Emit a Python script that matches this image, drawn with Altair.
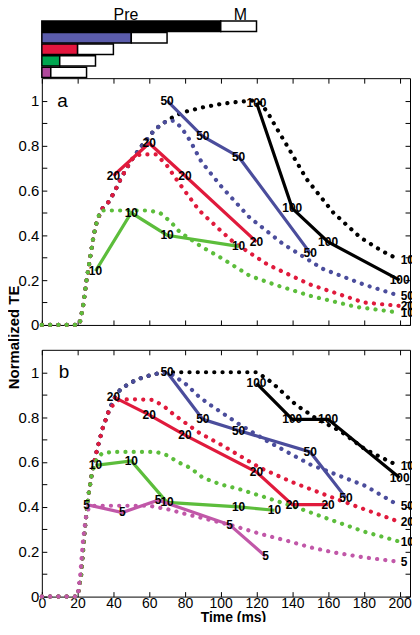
import altair as alt
import pandas as pd

# ---------------- data ----------------
series = ["100", "50", "20", "10", "5"]
line_colors = ["#000000", "#4b4d9c", "#e01a3c", "#5cbd3b", "#c157a8"]
bar_colors = ["#000000", "#5b5cab", "#e4163e", "#00a650", "#b0489c"]

# timing bars (ms)
pre_ms = [100, 50, 20, 10, 5]
m_ms = [20, 20, 20, 20, 20]
header_text = ["Pre", "M"]
header_t = [47, 111]

# panel a - measured (solid) series
a_solid_t = {
    "100": [120, 140, 160, 200],
    "50": [70, 90, 110, 150],
    "20": [40, 60, 80, 120],
    "10": [30, 50, 70, 110],
}
a_solid_v = {
    "100": [0.99, 0.52, 0.37, 0.20],
    "50": [1.0, 0.84, 0.75, 0.32],
    "20": [0.665, 0.81, 0.665, 0.37],
    "10": [0.24, 0.50, 0.40, 0.35],
}
# panel a - model (dotted) series
a_dot_t = {
    "100": [0, 21, 23, 25, 27, 29, 31, 34, 37.5, 41, 44, 47.5, 51, 55, 58, 62, 66, 70, 75, 80, 90, 100, 110, 118, 122, 126, 131, 137, 148, 163, 178, 190, 200],
    "50": [0, 21, 23, 25, 27, 29, 31, 34, 37.5, 41, 44, 47.5, 51, 55, 58, 62, 66, 70, 74, 78, 83, 89, 100, 116, 135, 157, 180, 200],
    "20": [0, 21, 23, 25, 27, 29, 31, 34, 37.5, 41, 44, 47.5, 51, 55, 64, 70, 76, 88, 100, 107, 126, 150, 180, 200],
    "10": [0, 21, 23, 25, 27, 29, 31, 33, 60, 66, 72, 77, 89, 100, 116, 130, 150, 176, 200],
}
a_dot_v = {
    "100": [0, 0, 0.08, 0.2, 0.3, 0.4, 0.47, 0.52, 0.55, 0.6, 0.65, 0.7, 0.745, 0.79, 0.82, 0.86, 0.89, 0.91, 0.935, 0.95, 0.97, 0.985, 0.995, 1.0, 0.99, 0.95, 0.88, 0.80, 0.65, 0.50, 0.39, 0.33, 0.29],
    "50": [0, 0, 0.08, 0.2, 0.3, 0.4, 0.47, 0.52, 0.55, 0.6, 0.65, 0.7, 0.745, 0.79, 0.82, 0.86, 0.89, 0.91, 0.91, 0.88, 0.82, 0.73, 0.62, 0.48, 0.36, 0.25, 0.18, 0.13],
    "20": [0, 0, 0.08, 0.2, 0.3, 0.4, 0.47, 0.52, 0.55, 0.6, 0.65, 0.7, 0.745, 0.76, 0.76, 0.71, 0.64, 0.51, 0.42, 0.37, 0.27, 0.18, 0.10, 0.085],
    "10": [0, 0, 0.08, 0.2, 0.3, 0.4, 0.47, 0.51, 0.51, 0.5, 0.46, 0.415, 0.35, 0.30, 0.22, 0.18, 0.13, 0.08, 0.055],
}

# panel b - measured (solid) series
b_solid_t = {
    "100": [120, 140, 160, 200],
    "50": [70, 90, 110, 150, 170],
    "20": [40, 60, 80, 120, 140, 160],
    "10": [30, 50, 70, 110, 130],
    "5": [25, 45, 65, 105, 125],
}
b_solid_v = {
    "100": [0.95, 0.79, 0.79, 0.53],
    "50": [1.0, 0.79, 0.74, 0.645, 0.44],
    "20": [0.89, 0.81, 0.72, 0.555, 0.41, 0.41],
    "10": [0.585, 0.605, 0.42, 0.40, 0.385],
    "5": [0.41, 0.375, 0.43, 0.32, 0.18],
}
# panel b - model (dotted) series
b_dot_t = {
    "100": [0, 20, 22, 24, 26, 28, 31, 34, 38, 41, 44, 50, 55, 62, 68, 120, 126, 131, 142, 153, 167, 181, 196, 200],
    "50": [0, 20, 22, 24, 26, 28, 31, 34, 38, 41, 44, 50, 55, 62, 68, 72, 81, 88, 94, 110, 126, 150, 181, 200],
    "20": [0, 20, 22, 24, 26, 28, 31, 34, 38, 43, 50, 62, 68, 74, 88, 100, 122, 140, 163, 180, 200],
    "10": [0, 20, 22, 24, 26, 28, 31, 34, 40, 64, 70, 76, 83, 90, 100, 110, 126, 145, 163, 180, 200],
    "5": [0, 20, 21.5, 23, 24.5, 26, 27, 60, 70, 81, 95, 107, 122, 137, 150, 163, 180, 200],
}
b_dot_v = {
    "100": [0, 0, 0.1, 0.3, 0.45, 0.55, 0.66, 0.75, 0.84, 0.89, 0.925, 0.955, 0.973, 0.99, 1.0, 1.0, 0.97, 0.937, 0.855, 0.796, 0.737, 0.655, 0.596, 0.58],
    "50": [0, 0, 0.1, 0.3, 0.45, 0.55, 0.66, 0.75, 0.84, 0.89, 0.925, 0.955, 0.973, 0.99, 1.0, 0.995, 0.944, 0.89, 0.855, 0.77, 0.693, 0.589, 0.493, 0.404],
    "20": [0, 0, 0.1, 0.3, 0.45, 0.55, 0.66, 0.75, 0.84, 0.877, 0.88, 0.877, 0.85, 0.81, 0.73, 0.678, 0.574, 0.51, 0.44, 0.39, 0.333],
    "10": [0, 0, 0.1, 0.3, 0.45, 0.55, 0.62, 0.64, 0.645, 0.645, 0.63, 0.60, 0.574, 0.53, 0.50, 0.48, 0.44, 0.39, 0.338, 0.29, 0.245],
    "5": [0, 0, 0.1, 0.25, 0.35, 0.39, 0.405, 0.405, 0.39, 0.367, 0.34, 0.316, 0.28, 0.249, 0.22, 0.197, 0.175, 0.155],
}

x_ticks = [0, 20, 40, 60, 80, 100, 120, 140, 160, 180, 200]
y_ticks = [0, 0.1, 0.2, 0.3, 0.4, 0.5, 0.6, 0.7, 0.8, 0.9, 1.0]

FONT = "Liberation Sans"
W = 370
H = 248
XDOM = [0, 205.8]
YDOM = [0, 1.1]
color_of = dict(zip(series, line_colors))
LABEL_EXPR = "round(datum.value*10) % 2 == 0 ? format(datum.value, '.1~f') : ''"


def long_df(tdict, vdict):
    rows = []
    for s in series:
        if s not in tdict:
            continue
        for i, (t, v) in enumerate(zip(tdict[s], vdict[s])):
            rows.append({"series": s, "t": t, "v": v, "i": i, "col": color_of[s]})
    return pd.DataFrame(rows)


def xs(axis):
    return alt.X("t:Q", scale=alt.Scale(domain=XDOM, nice=False, zero=False), axis=axis)


def ys(axis):
    return alt.Y("v:Q", scale=alt.Scale(domain=YDOM, nice=False, zero=False), axis=axis)


def make_panel(st, sv, dt, dv, letter, letter_t, bottom_labels, y_title):
    solid = long_df(st, sv)
    dotted = long_df(dt, dv)
    ends = dotted.groupby("series", sort=False).tail(1)

    left_kw = dict(
        orient="left", values=y_ticks, tickSize=5, offset=-5, domain=False, grid=False,
        labelExpr=LABEL_EXPR, labelPadding=3, labelFontSize=15, labelFont=FONT,
        labelColor="black", labelOverlap=False, tickColor="black",
    )
    if y_title:
        left_axis = alt.Axis(
            title=y_title, titleFontSize=15, titleFont=FONT, titleFontWeight="bold",
            titleColor="black", titleX=-25, titleY=260, **left_kw,
        )
    else:
        left_axis = alt.Axis(title=None, **left_kw)
    if bottom_labels:
        bottom_axis = alt.Axis(
            orient="bottom", values=x_ticks, format="d", tickSize=5, offset=-5,
            domain=False, grid=False, labelPadding=0, labelFontSize=14, labelFont=FONT,
            labelColor="black", labelFlush=False, labelOverlap=False, tickColor="black",
            title="Time (ms)", titleFontSize=14, titleFont=FONT, titleFontWeight="bold",
            titleColor="black", titlePadding=0, titleX=192,
        )
    else:
        bottom_axis = alt.Axis(
            orient="bottom", values=x_ticks, tickSize=5, offset=-5, domain=False,
            grid=False, labels=False, tickColor="black", title=None,
        )
    top_axis = alt.Axis(orient="top", values=x_ticks, tickSize=5, offset=-5, domain=False,
                        grid=False, labels=False, tickColor="black", title=None)
    right_axis = alt.Axis(orient="right", values=y_ticks, tickSize=5, offset=-5, domain=False,
                          grid=False, labels=False, tickColor="black", title=None)

    dots = alt.Chart(dotted).mark_line(
        strokeDash=[0.1, 8.2], strokeCap="round", strokeWidth=4.2
    ).encode(
        x=xs(bottom_axis), y=ys(left_axis),
        color=alt.Color("col:N", scale=None), detail="series:N", order="i:Q",
    )
    lines = alt.Chart(solid).mark_line(strokeWidth=3.2).encode(
        x=xs(None), y=ys(None),
        color=alt.Color("col:N", scale=None), detail="series:N", order="i:Q",
    )
    pt_labels = alt.Chart(solid).mark_text(
        font=FONT, fontSize=12, fontWeight="bold", color="black"
    ).encode(x=xs(None), y=ys(None), text="series:N")
    end_labels = alt.Chart(ends).mark_text(
        font=FONT, fontSize=12, fontWeight="bold", color="black", align="left", dx=1
    ).encode(x=xs(top_axis), y=ys(right_axis), text="series:N")
    letter_df = pd.DataFrame({"t": [letter_t], "v": [1.0], "txt": [letter]})
    letter_mark = alt.Chart(letter_df).mark_text(
        font=FONT, fontSize=19, color="black"
    ).encode(x=xs(None), y=ys(None), text="txt:N")

    return alt.layer(dots, lines, pt_labels, end_labels, letter_mark).resolve_axis(
        x="independent", y="independent"
    ).properties(width=W, height=H)


panel_a = make_panel(a_solid_t, a_solid_v, a_dot_t, a_dot_v, "a", 11.5, False, "Normalized TE")
panel_b = make_panel(b_solid_t, b_solid_v, b_dot_t, b_dot_v, "b", 12.4, True, None)

# timing bars
bars_df = pd.DataFrame({
    "series": series,
    "zero": [0] * len(series),
    "pre": pre_ms,
    "end": [p + m for p, m in zip(pre_ms, m_ms)],
    "col": bar_colors,
})
bx = alt.Scale(domain=XDOM, nice=False, zero=False)
by = alt.Y("series:N", sort=series, scale=alt.Scale(paddingInner=0.1, paddingOuter=0.05), axis=None)
pre_bars = alt.Chart(bars_df).mark_bar(stroke="black", strokeWidth=1.5).encode(
    x=alt.X("zero:Q", scale=bx, axis=None), x2="pre:Q", y=by,
    color=alt.Color("col:N", scale=None),
)
m_bars = alt.Chart(bars_df).mark_bar(stroke="black", strokeWidth=1.5, color="white").encode(
    x=alt.X("pre:Q", scale=bx, axis=None), x2="end:Q", y=by,
)
hdr_df = pd.DataFrame({"t": header_t, "txt": header_text})
hdr = alt.Chart(hdr_df).mark_text(font=FONT, fontSize=16, color="black", baseline="middle").encode(
    x=alt.X("t:Q", scale=bx, axis=None), y=alt.value(-5.5), text="txt:N"
)
bars = alt.layer(pre_bars, m_bars, hdr).properties(
    width=W, height=58, view=alt.ViewBackground(stroke="transparent")
)

spacer = alt.Chart(pd.DataFrame({"t": [0]})).mark_point(opacity=0).encode(
    x=alt.X("t:Q", scale=bx, axis=None)
).properties(width=W, height=25, view=alt.ViewBackground(stroke="transparent"))

chart = alt.vconcat(bars, panel_a, spacer, panel_b, spacing=0, bounds="flush").properties(
    padding={"left": -2, "top": -3, "right": -10, "bottom": -5}
).configure_view(stroke="black", strokeWidth=1).configure_axis(
    labelFont=FONT, titleFont=FONT
)

chart.save("out.html", embed_options={"renderer": "svg", "actions": False})
